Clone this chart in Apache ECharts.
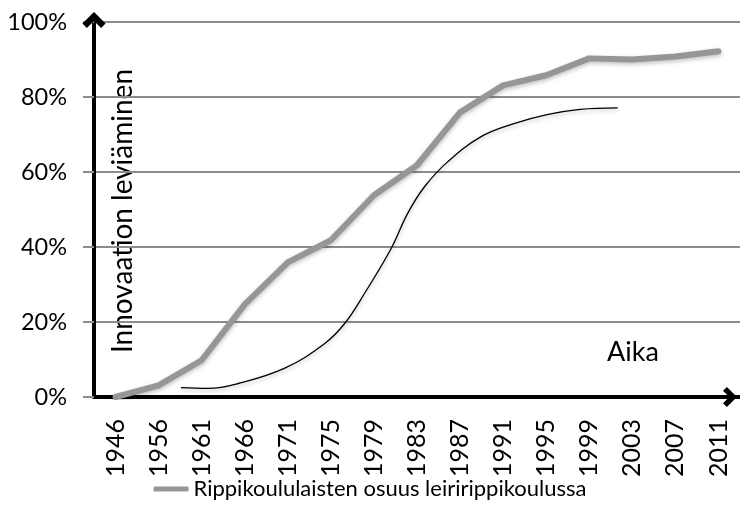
<!DOCTYPE html>
<html>
<head>
<meta charset="utf-8">
<script src="https://cdn.jsdelivr.net/npm/echarts@6/dist/echarts.min.js"></script>
<style>
  html, body { margin: 0; padding: 0; background: #fff; }
  #chart { width: 740px; height: 532px; }
</style>
</head>
<body>
<div id="chart"></div>
<script>
// vuodet (kategoria-akseli)
var years = ['1946', '1956', '1961', '1966', '1971', '1975', '1979', '1983',
             '1987', '1991', '1995', '1999', '2003', '2007', '2011'];

// leiririppikoulun osuus, %
var shares = [0, 3.1, 9.8, 24.7, 35.9, 41.8, 53.8, 61.8, 75.9, 83.1, 85.8, 90.3, 90, 90.8, 92.2];

// havainnollistava S-käyrä (x = kategorian indeksi, y = %)
var curveX = [1.52, 2.15, 2.85, 3.93, 4.85, 5.32, 5.78, 6.40, 6.78, 7.17, 7.71, 8.47, 9.25, 10.02, 10.79, 11.66];
var curveY = [2.5, 2.3, 3.6, 7.7, 14.2, 19.6, 27.6, 39.6, 48.9, 56.0, 62.7, 69.3, 72.9, 75.3, 76.7, 77.1];

var yTicks = [0, 20, 40, 60, 80, 100];

var seriesName = 'Rippikoululaisten osuus leiririppikoulussa';
var font = 'Lato';
var chevron = 'path://M0,13 L13,0 L26,13 L21,18 L13,10 L5,18 Z';

window.onload = function () {
    var myChart = echarts.init(document.getElementById('chart'));

    var curveData = curveX.map(function (x, i) { return [x, curveY[i]]; });

    var option = {
        animation: false,
        backgroundColor: '#fff',
        textStyle: { fontFamily: font },
        grid: { left: 94, top: 22, width: 649, height: 375 },
        legend: {
            data: [seriesName],
            top: 473,
            left: 'center',
            icon: 'roundRect',
            itemWidth: 35,
            itemHeight: 5,
            itemGap: 2,
            textStyle: { fontFamily: font, fontSize: 22, color: '#000' }
        },
        xAxis: [
            {
                type: 'category',
                data: years,
                boundaryGap: true,
                axisLine: {
                    onZero: false,
                    lineStyle: { color: '#000', width: 4 },
                    symbol: ['none', chevron],
                    symbolSize: [28, 14],
                    symbolOffset: [0, -10]
                },
                axisTick: { length: 8, lineStyle: { color: '#8c8c8c', width: 2 } },
                axisLabel: { rotate: 90, margin: 22, fontSize: 25, fontFamily: font, color: '#000' },
                splitLine: { show: false }
            },
            {
                type: 'value',
                min: -0.5,
                max: 14.5,
                show: false
            }
        ],
        yAxis: {
            type: 'value',
            min: yTicks[0],
            max: yTicks[yTicks.length - 1],
            interval: 20,
            axisLine: {
                show: true,
                onZero: false,
                lineStyle: { color: '#000', width: 4 },
                symbol: ['none', chevron],
                symbolSize: [26, 16],
                symbolOffset: [0, 2]
            },
            axisTick: { show: true, length: 11, lineStyle: { color: '#8c8c8c', width: 2 } },
            axisLabel: { formatter: '{value}%', margin: 27, fontSize: 23.5, fontFamily: font, color: '#000' },
            splitLine: { lineStyle: { color: '#8c8c8c', width: 2 } }
        },
        graphic: [
            {
                type: 'text',
                x: 123, y: 211,
                rotation: Math.PI / 2,
                style: {
                    text: 'Innovaation leviäminen',
                    font: '28px Lato',
                    fill: '#000',
                    align: 'center',
                    verticalAlign: 'middle'
                }
            },
            {
                type: 'text',
                x: 607, y: 352,
                style: {
                    text: 'Aika',
                    font: '27px Lato',
                    fill: '#000',
                    align: 'left',
                    verticalAlign: 'middle'
                }
            }
        ],
        series: [
            {
                name: seriesName,
                type: 'line',
                data: shares,
                symbol: 'none',
                color: '#969696',
                lineStyle: {
                    width: 6,
                    cap: 'round',
                    join: 'round',
                    shadowColor: 'rgba(0,0,0,0.25)',
                    shadowBlur: 4,
                    shadowOffsetY: 2
                },
                z: 3
            },
            {
                name: 'S-käyrä',
                type: 'line',
                xAxisIndex: 1,
                data: curveData,
                smooth: 0.4,
                symbol: 'none',
                color: '#000',
                lineStyle: {
                    width: 1.3,
                    shadowColor: 'rgba(0,0,0,0.3)',
                    shadowBlur: 4,
                    shadowOffsetY: 2
                },
                z: 2
            }
        ]
    };

    myChart.setOption(option);
};
</script>
</body>
</html>
